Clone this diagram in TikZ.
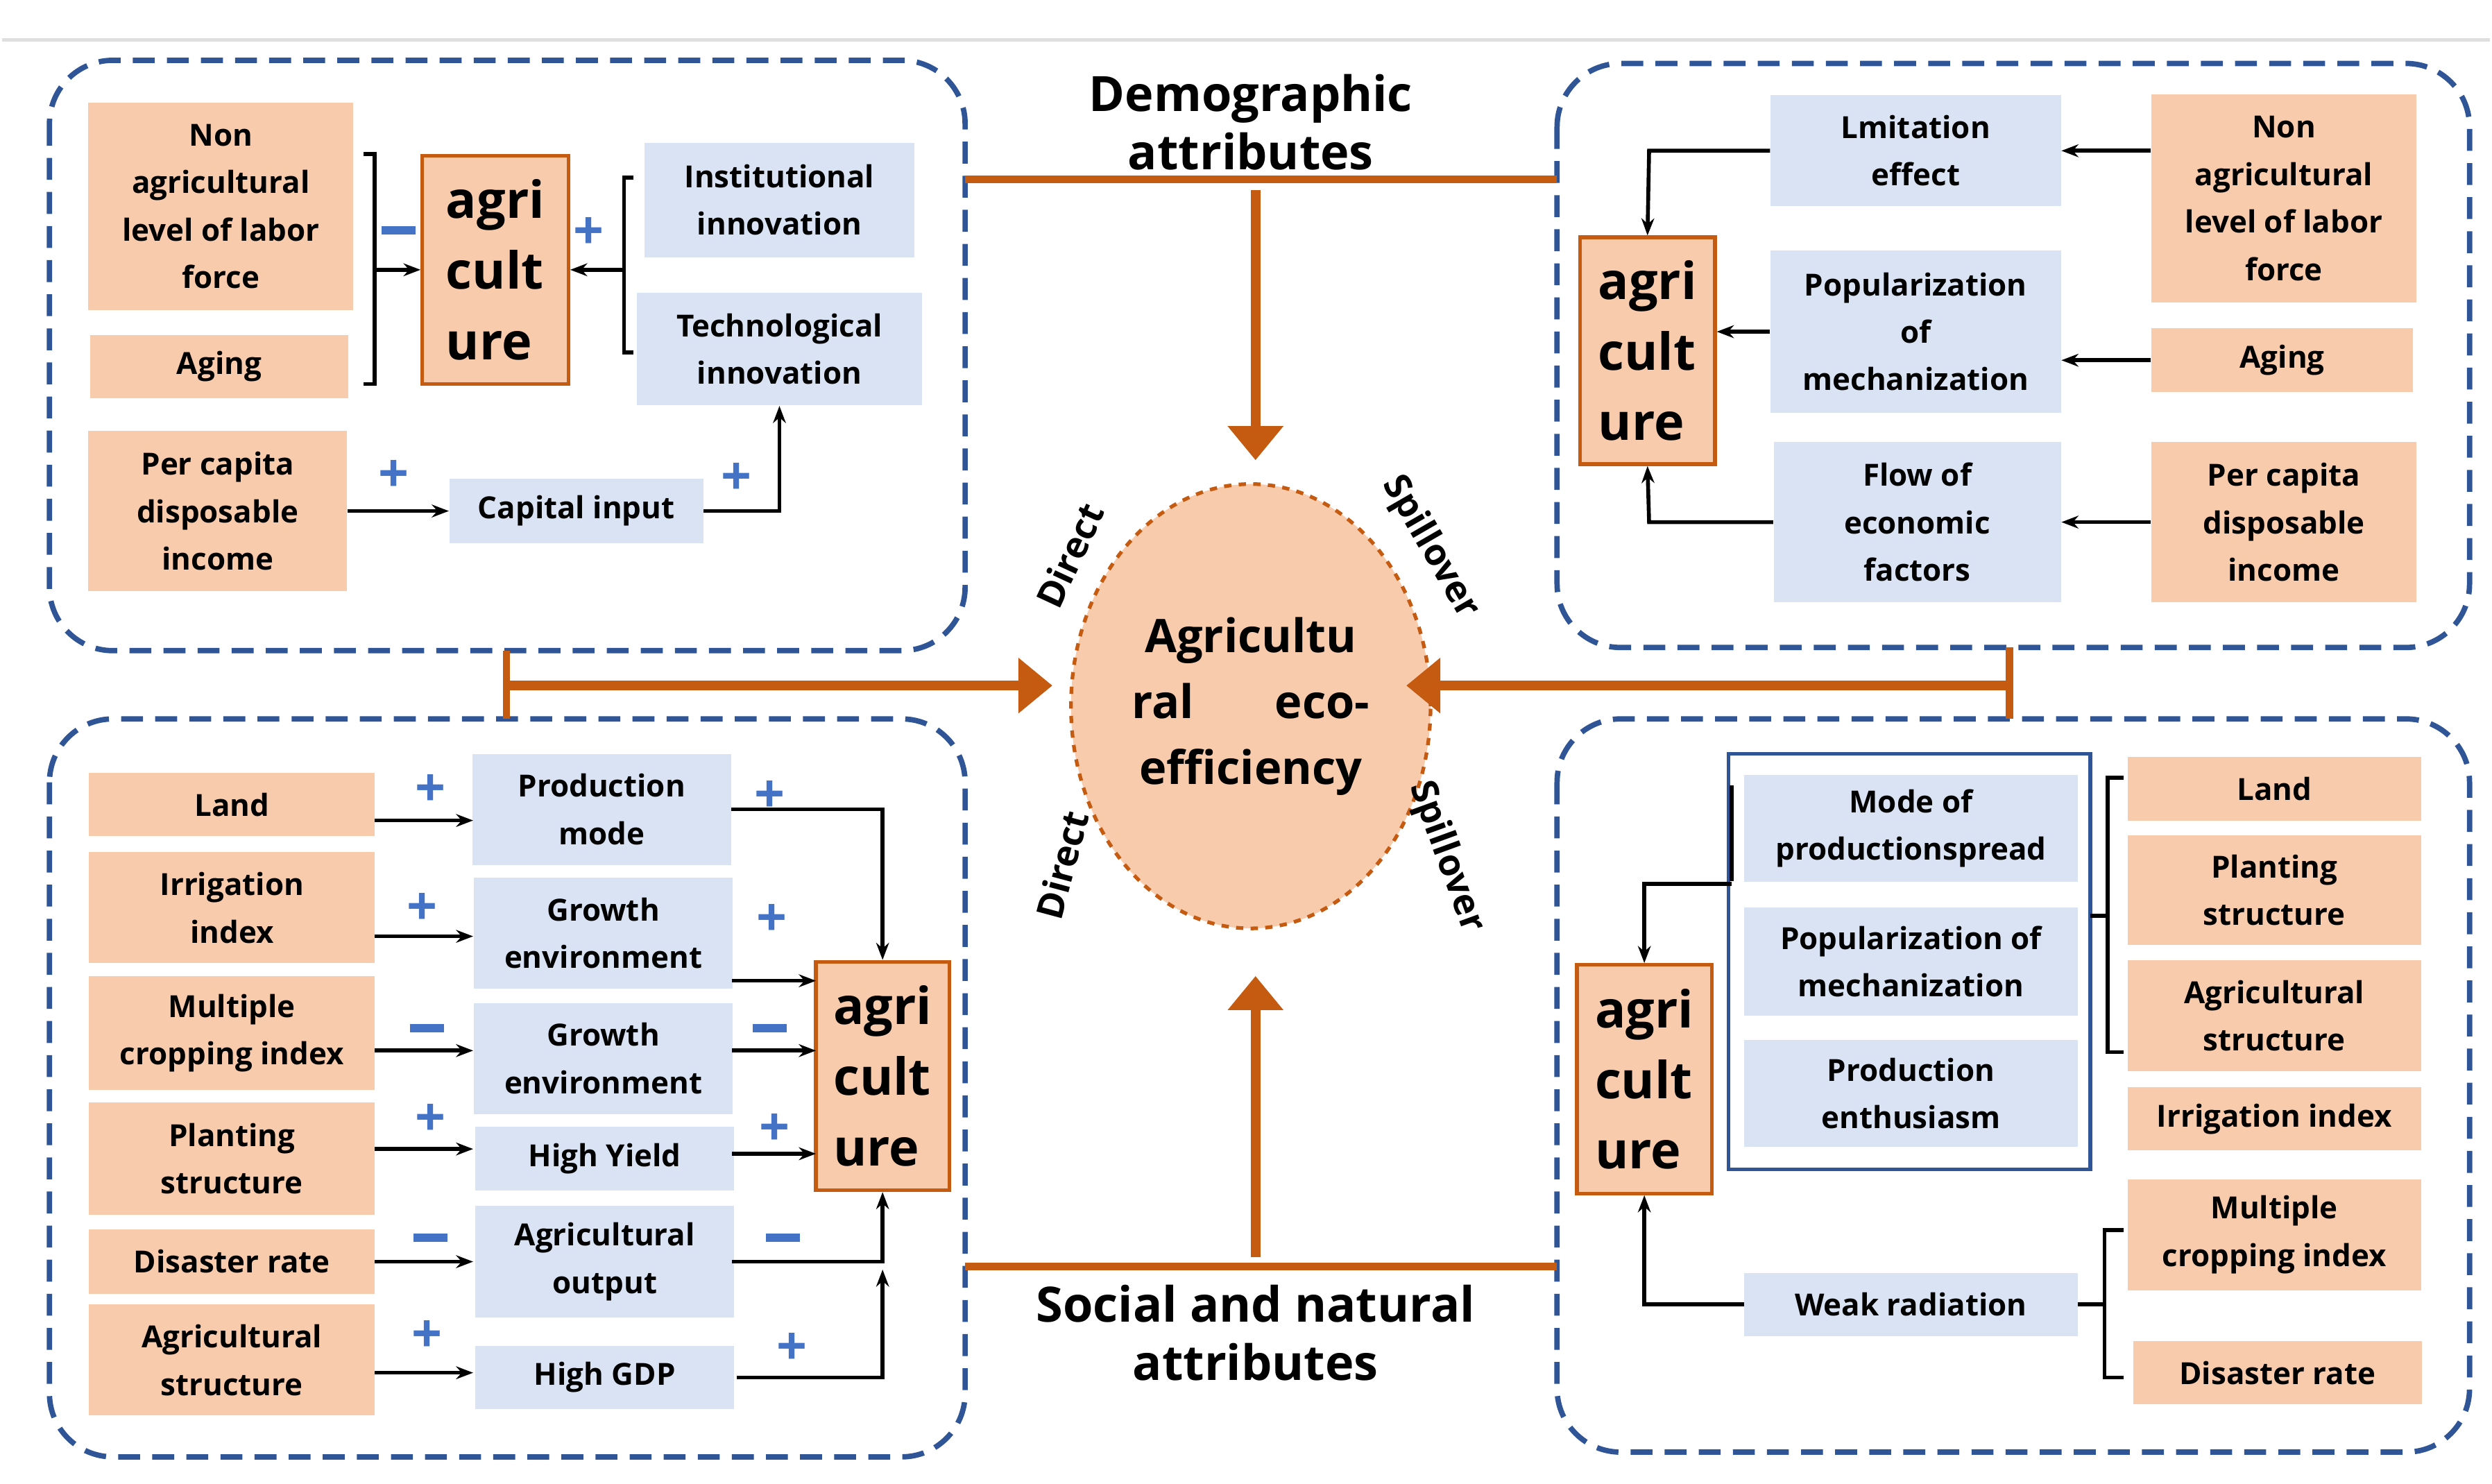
\documentclass[tikz,border=0pt]{standalone}
\usepackage{fontspec}
\setmainfont{Open Sans}
\usetikzlibrary{arrows.meta,shapes.geometric}
\newlength\uu \setlength\uu{0.0229cm}
\definecolor{or}{HTML}{F8CBAD}
\definecolor{bl}{HTML}{DAE3F3}
\definecolor{db}{HTML}{2F5597}
\definecolor{dor}{HTML}{C55A11}
\definecolor{sg}{HTML}{4472C4}
\hyphenpenalty=10000
\newcommand\bx[6]{\node[#1,minimum width=#4\uu,minimum height=#5\uu] (#2) at (#3) {#6};}
\begin{document}
\begin{tikzpicture}[x=0.0229cm,y=-0.0229cm,
 ob/.style={fill=or,inner sep=1pt,align=center,font=\fontsize{12.5}{19.5}\selectfont\bfseries},
 bb/.style={fill=bl,inner sep=1pt,align=center,font=\fontsize{12.5}{19.5}\selectfont\bfseries},
 ag/.style={fill=or,draw=dor,line width=1.5pt,inner sep=1pt,align=left,font=\fontsize{21}{29}\selectfont\bfseries},
 pan/.style={draw=db,dashed,line width=2.2pt,rounded corners=40\uu,dash pattern=on 9pt off 5pt},
 ar/.style={-{Stealth[length=7pt]},line width=1.6pt},
 ln/.style={line width=1.6pt},
 sg/.style={text=sg,font=\fontsize{22}{22}\selectfont\bfseries,inner sep=0pt},
 big/.style={line width=4pt,dor,-{Triangle[length=14pt,width=22pt]}},
 tt/.style={font=\fontsize{20}{24}\selectfont\bfseries,align=center},
 rt/.style={font=\fontsize{15}{15}\selectfont\bfseries,inner sep=0pt}]
\path[fill=white] (0,0) rectangle (1568,935);
\draw[gray!25,line width=1.5pt] (0,25)--(1568,25);
% panels
\draw[pan] (30,38) rectangle (607,410);
\draw[pan] (980,40) rectangle (1555,408);
\draw[pan] (30,453) rectangle (607,918);
\draw[pan] (980,453) rectangle (1555,915);
% center
\node[ellipse,draw=dor,dashed,line width=1.5pt,fill=or,minimum width=190\uu,minimum height=280\uu,font=\fontsize{19}{27}\selectfont\bfseries,align=center] (ell) at (787,445) {Agricultu\\\makebox[150\uu][s]{ral\hfill eco-}\\efficiency};
\node[tt] (dem) at (787,77) {Demographic\\attributes};
\node[tt] (soc) at (790,840) {Social and natural\\attributes};
\draw[dor,line width=3pt] (607,113)--(980,113);
\draw[dor,line width=3pt] (607,798)--(980,798);
\coordinate (t1) at (790,120); \coordinate (t2) at (790,290);
\coordinate (b1) at (790,792); \coordinate (b2) at (790,615);
\draw[big] (t1)--(t2); \draw[big] (b1)--(b2);
\draw[dor,line width=3pt] (318,410)--(318,453);
\draw[dor,line width=3pt] (1265,408)--(1265,453);
\coordinate (l1) at (318,432); \coordinate (l2) at (662,432);
\coordinate (r1) at (1265,432); \coordinate (r2) at (885,432);
\draw[big] (l1)--(l2); \draw[big] (r1)--(r2);
\node[rt,rotate=65] (d1) at (673,350) {Direct};
\node[rt,rotate=-60] (s1) at (900,345) {Spillover};
\node[rt,rotate=75] (d2) at (668,545) {Direct};
\node[rt,rotate=-70] (s2) at (910,540) {Spillover};
% top-left
\bx{ob}{tl1}{138,130}{167}{131}{Non\\agricultural\\level of labor\\force}
\bx{ob}{tl2}{137,231}{163}{40}{Aging}
\node[ag,minimum width=92\uu,minimum height=144\uu] (tla) at (311,170) {agri\\cult\\ure};
\bx{bb}{tl3}{490,126}{170}{72}{Institutional\\innovation}
\bx{bb}{tl4}{490,220}{180}{71}{Technological\\innovation}
\bx{ob}{tl5}{136,322}{163}{101}{Per capita\\disposable\\income}
\bx{bb}{tl6}{362,322}{160}{41}{Capital input}
\draw[ln] (228,97)--(235,97)--(235,242)--(228,242);
\coordinate (tlb) at (235,170);
\draw[ar] (tlb)--(tla.west);
\draw[ln] (398,112)--(392,112)--(392,222)--(398,222);
\coordinate (trb) at (392,170);
\draw[ar] (trb)--(tla.east);
\draw[ar] (tl5.east)--(tl6.west);
\draw[ar] (tl6.east)--(490,322)--(tl4.south);
\node[sg] (m1) at (250,145) {\rule{14pt}{3.5pt}};
\node[sg] (p1) at (370,147) {+};
\node[sg] (p2) at (247,300) {+};
\node[sg] (p3) at (463,302) {+};
% top-right
\bx{bb}{tr1}{1206,95}{183}{70}{Lmitation\\effect}
\bx{ob}{tr2}{1438,125}{167}{131}{Non\\agricultural\\level of labor\\force}
\node[ag,minimum width=85\uu,minimum height=143\uu] (tra) at (1037,221) {agri\\cult\\ure};
\bx{bb}{tr3}{1206,209}{183}{102}{Popularization\\of\\mechanization}
\bx{ob}{tr4}{1437,227}{165}{40}{Aging}
\bx{bb}{tr5}{1207,329}{181}{101}{Flow of\\economic\\factors}
\bx{ob}{tr6}{1438,329}{167}{101}{Per capita\\disposable\\income}
\draw[ar] (tr2.west|-tr1)--(tr1.east);
\draw[ar] (tr1.west)--(1038,95)--(tra.north);
\draw[ar] (tr4.west)--(tr3.east|-tr4);
\draw[ar] (tr3.west)--(tra.east|-tr3);
\draw[ar] (tr6.west)--(tr5.east);
\draw[ar] (tr5.west)--(1038,329)--(tra.south);
% bottom-left
\bx{ob}{bl1}{145,507}{180}{40}{Land}
\bx{ob}{bl2}{145,572}{180}{70}{Irrigation\\index}
\bx{ob}{bl3}{145,651}{180}{72}{Multiple\\cropping index}
\bx{ob}{bl4}{145,730}{180}{71}{Planting\\structure}
\bx{ob}{bl5}{145,795}{180}{41}{Disaster rate}
\bx{ob}{bl6}{145,857}{180}{70}{Agricultural\\structure}
\bx{bb}{bm1}{378,510}{163}{70}{Production\\mode}
\bx{bb}{bm2}{379,588}{163}{70}{Growth\\environment}
\bx{bb}{bm3}{379,667}{163}{70}{Growth\\environment}
\bx{bb}{bm4}{380,730}{163}{40}{High Yield}
\bx{bb}{bm5}{380,795}{163}{70}{Agricultural\\output}
\bx{bb}{bm6}{380,868}{163}{40}{High GDP}
\node[ag,minimum width=84\uu,minimum height=144\uu] (bla) at (555,678) {agri\\cult\\ure};
\draw[ar] (235,517)--(297,517);
\draw[ar] (235,590)--(297,590);
\draw[ar] (235,662)--(297,662);
\draw[ar] (235,724)--(297,724);
\draw[ar] (235,795)--(297,795);
\draw[ar] (235,865)--(297,865);
\draw[ar] (bm1.east)--(555,510)--(bla.north);
\draw[ar] (460,618)--(513,618);
\draw[ar] (460,662)--(513,662);
\draw[ar] (460,727)--(513,727);
\draw[ar] (460,795)--(555,795)--(bla.south);
\draw[ar] (463,868)--(555,868)--(555,800);
\node[sg] at (270,498) {+};
\node[sg] at (265,573) {+};
\node[sg] at (268,648) {\rule{14pt}{3.5pt}};
\node[sg] at (270,706) {+};
\node[sg] at (270,780) {\rule{14pt}{3.5pt}};
\node[sg] at (268,842) {+};
\node[sg] at (484,502) {+};
\node[sg] at (485,580) {+};
\node[sg] at (484,648) {\rule{14pt}{3.5pt}};
\node[sg] at (487,712) {+};
\node[sg] at (492,780) {\rule{14pt}{3.5pt}};
\node[sg] at (498,850) {+};
% bottom-right
\draw[db,line width=1.5pt] (1088,475) rectangle (1316,737);
\bx{bb}{br1}{1203,522}{210}{67}{Mode of\\productionspread}
\bx{bb}{br2}{1203,606}{210}{68}{Popularization of\\mechanization}
\bx{bb}{br3}{1203,689}{210}{67}{Production\\enthusiasm}
\node[ag,minimum width=85\uu,minimum height=144\uu] (bra) at (1035,680) {agri\\cult\\ure};
\bx{ob}{bo1}{1432,497}{185}{40}{Land}
\bx{ob}{bo2}{1432,561}{185}{69}{Planting\\structure}
\bx{ob}{bo3}{1432,640}{185}{70}{Agricultural\\structure}
\bx{ob}{bo4}{1432,705}{185}{40}{Irrigation index}
\bx{ob}{bo5}{1432,778}{185}{70}{Multiple\\cropping index}
\bx{ob}{bo6}{1434,865}{182}{40}{Disaster rate}
\bx{bb}{br4}{1203,822}{210}{40}{Weak radiation}
\draw[ln] (1337,490)--(1327,490)--(1327,663)--(1337,663);
\draw[ln] (1327,577)--(1316,577);
\draw[ln] (1090,495)--(1090,555);
\draw[ar] (1090,557)--(1035,557)--(bra.north);
\draw[ln] (1337,775)--(1325,775)--(1325,868)--(1337,868);
\draw[ln] (1325,822)--(br4.east);
\draw[ar] (br4.west)--(1035,822)--(bra.south);
\end{tikzpicture}
\end{document}
